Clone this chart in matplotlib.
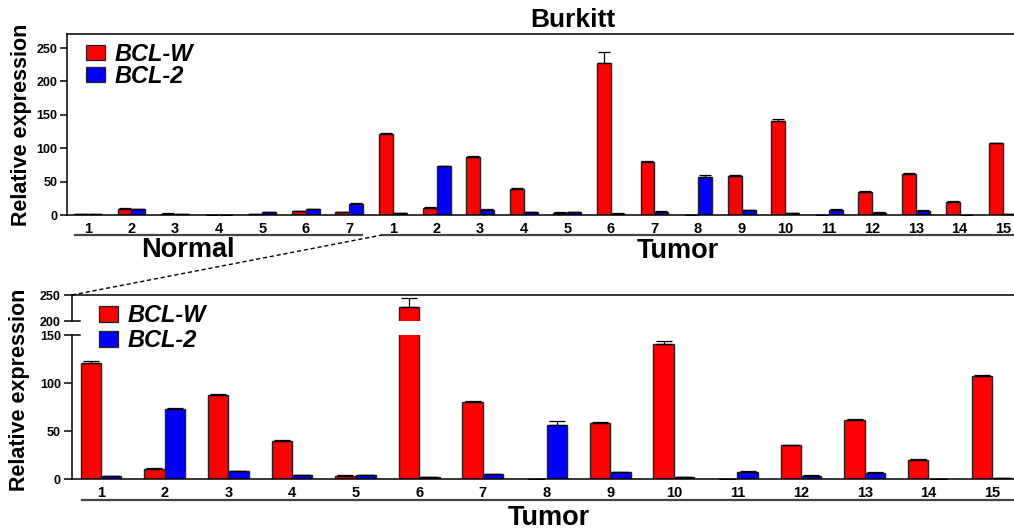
import numpy as np
import matplotlib
matplotlib.use("Agg")
import matplotlib.pyplot as plt
from matplotlib.lines import Line2D
from matplotlib.patches import Patch
import matplotlib.transforms as mtransforms

plt.rcParams['font.family'] = ['Liberation Sans', 'DejaVu Sans']
plt.rcParams['font.weight'] = 'bold'

# ---- data ----
normal_labels = ['1', '2', '3', '4', '5', '6', '7']
tumor_labels = [str(i) for i in range(1, 16)]

normal_bclw = [1.0, 9.5, 2.0, 0.5, 1.0, 5.5, 4.5]
normal_bclw_err = [0.3, 0.8, 0.3, 0.1, 0.3, 0.6, 0.4]
normal_bcl2 = [0.8, 8.5, 2.0, 0.5, 4.0, 9.0, 17.0]
normal_bcl2_err = [0.1, 0.8, 0.2, 0.1, 0.4, 0.6, 1.2]

tumor_bclw = [121, 10.5, 87, 39.5, 3.5, 227, 80, 0.5, 58.5, 141, 0, 35, 61, 20, 107.5]
tumor_bclw_err = [2, 1, 1.2, 0.8, 0.3, 17, 0.8, 0, 0.8, 3, 0, 0.8, 2, 1, 0.5]
tumor_bcl2 = [3, 73, 8, 3.8, 4.3, 2.2, 4.8, 56.5, 7.5, 2.3, 7.5, 3.5, 6, 0, 1.3]
tumor_bcl2_err = [0.2, 0.8, 0.5, 0.2, 0.2, 0.1, 0.6, 3.8, 0.3, 0.2, 1.2, 0.8, 0.8, 0, 0.1]

RED = '#ff0000'
BLUE = '#0000ff'
EDGE = '#222222'
W = 0.32

W_PX, H_PX = 1014, 531
fig = plt.figure(figsize=(W_PX / 100, H_PX / 100), dpi=100)


def px_rect(left, top, right, bottom):
    return [left / W_PX, 1 - bottom / H_PX, (right - left) / W_PX, (bottom - top) / H_PX]


def draw_bars(ax, red, red_err, blue, blue_err, capsize):
    x = np.arange(len(red))
    ax.bar(x - W, red, W, align='edge', color=RED, edgecolor=EDGE, linewidth=1.0, zorder=2)
    ax.bar(x, blue, W, align='edge', color=BLUE, edgecolor=EDGE, linewidth=1.0, zorder=2)
    zr = np.zeros(len(red))
    ax.errorbar(x - W / 2, red, yerr=[zr, red_err], fmt='none', ecolor='black',
                elinewidth=0.9, capsize=capsize, capthick=0.9, zorder=3)
    ax.errorbar(x + W / 2, blue, yerr=[zr, blue_err], fmt='none', ecolor='black',
                elinewidth=0.9, capsize=capsize, capthick=0.9, zorder=3)


# ---------------- top panel ----------------
ax1 = fig.add_axes(px_rect(67, 34, 1014, 215))
all_red = normal_bclw + tumor_bclw
all_red_err = normal_bclw_err + tumor_bclw_err
all_blue = normal_bcl2 + tumor_bcl2
all_blue_err = normal_bcl2_err + tumor_bcl2_err
draw_bars(ax1, all_red, all_red_err, all_blue, all_blue_err, capsize=4)
ax1.set_xlim(-0.48, 21.25)
ax1.set_ylim(0, 271)
ax1.set_yticks([0, 50, 100, 150, 200, 250])
ax1.set_xticks(np.arange(len(all_red)))
ax1.set_xticklabels(normal_labels + tumor_labels, fontsize=10.5, fontweight='bold')
ax1.tick_params(axis='x', length=0, pad=5)
ax1.tick_params(axis='y', direction='out', length=5, width=1.1, labelsize=9, pad=2)
ax1.spines['right'].set_visible(False)
for s in ['left', 'bottom', 'top']:
    ax1.spines[s].set_linewidth(1.1)
ax1.set_ylabel('Relative expression', fontsize=15.5, fontweight='bold', labelpad=3)

trans1 = mtransforms.blended_transform_factory(ax1.transData, ax1.transAxes)
ax1.plot([-0.3, 6.29], [-0.11, -0.11], color='#444444', lw=1.6, transform=trans1, clip_on=False)
ax1.plot([6.75, 21.3], [-0.11, -0.11], color='#444444', lw=1.6, transform=trans1, clip_on=False)
ax1.text(2.3, -0.195, 'Normal', transform=trans1, ha='center', va='center',
         fontsize=19.5, fontweight='bold')
ax1.text(13.54, -0.2, 'Tumor', transform=trans1, ha='center', va='center',
         fontsize=19.5, fontweight='bold')
fig.text(573 / W_PX, 1 - 20 / H_PX, 'Burkitt', ha='center', va='center',
         fontsize=19, fontweight='bold')

handles = [Patch(facecolor=RED, edgecolor=EDGE, lw=0.9),
           Patch(facecolor=BLUE, edgecolor=EDGE, lw=0.9)]
leg_labels = ['BCL-W', 'BCL-2']
leg_font = {'size': 17, 'weight': 'bold', 'style': 'italic'}
fig.legend(handles, leg_labels, loc='upper left', bbox_to_anchor=(86 / W_PX, 1 - 43 / H_PX),
           frameon=False, prop=leg_font, handlelength=0.82, handleheight=0.6,
           handletextpad=0.4, labelspacing=-0.05, borderpad=0, borderaxespad=0)

# ---------------- bottom panel (broken axis) ----------------
ax_hi = fig.add_axes(px_rect(72, 295, 1014, 321))
ax_lo = fig.add_axes(px_rect(72, 335, 1014, 479))
for ax in (ax_hi, ax_lo):
    draw_bars(ax, tumor_bclw, tumor_bclw_err, tumor_bcl2, tumor_bcl2_err, capsize=5.5)
    ax.set_xlim(-0.456, 14.346)
    ax.spines['right'].set_visible(False)
    for s in ['left', 'bottom', 'top']:
        ax.spines[s].set_linewidth(1.1)
    ax.tick_params(axis='y', direction='out', length=6, width=1.1, labelsize=9, pad=2)

ax_hi.set_ylim(200, 250)
ax_hi.set_yticks([200, 250])
ax_hi.spines['bottom'].set_visible(False)
ax_hi.set_xticks([])

ax_lo.set_ylim(0, 150)
ax_lo.set_yticks([0, 50, 100, 150])
ax_lo.spines['top'].set_visible(False)
ax_lo.set_xticks(np.arange(len(tumor_labels)))
ax_lo.set_xticklabels(tumor_labels, fontsize=10.5, fontweight='bold')
ax_lo.tick_params(axis='x', length=0, pad=5)

# break marks
for ax, yv in ((ax_hi, 200), (ax_lo, 150)):
    tr = mtransforms.blended_transform_factory(ax.transAxes, ax.transData)
    ax.plot([0, 0.008], [yv, yv], color='black', lw=1.1, transform=tr, clip_on=False)

trans_lo = mtransforms.blended_transform_factory(ax_lo.transData, ax_lo.transAxes)
ax_lo.plot([-0.3, 14.4], [-0.146, -0.146], color='#444444', lw=1.6, transform=trans_lo, clip_on=False)
ax_lo.text(7.03, -0.27, 'Tumor', transform=trans_lo, ha='center', va='center',
           fontsize=19.5, fontweight='bold')

fig.text(20 / W_PX, 1 - 390 / H_PX, 'Relative expression', rotation=90, ha='center',
         va='center', fontsize=15.5, fontweight='bold')

fig.legend(handles, leg_labels, loc='upper left', bbox_to_anchor=(99 / W_PX, 1 - 304 / H_PX),
           frameon=False, prop=leg_font, handlelength=0.82, handleheight=0.65,
           handletextpad=0.4, labelspacing=0.1, borderpad=0, borderaxespad=0)

# dashed zoom connector
fig.add_artist(Line2D([72 / W_PX, 382 / W_PX], [1 - 295 / H_PX, 1 - 235 / H_PX],
                      transform=fig.transFigure, color='black', lw=1.0,
                      linestyle=(0, (3, 2))))

fig.savefig('out.png', dpi=100)
